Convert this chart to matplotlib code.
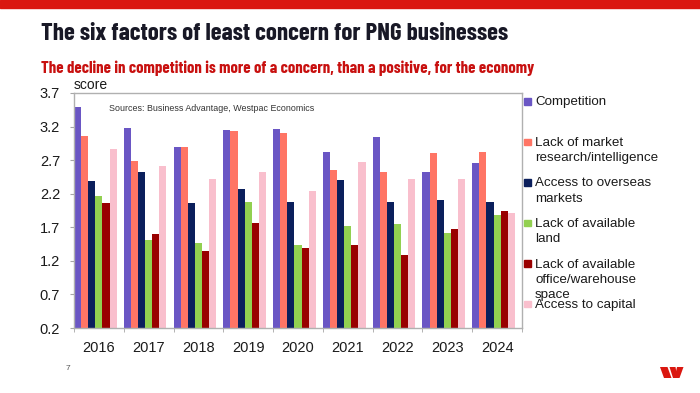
import matplotlib
matplotlib.use("Agg")
import matplotlib.pyplot as plt
from matplotlib.patches import Rectangle, Polygon
import numpy as np

years = ["2016", "2017", "2018", "2019", "2020", "2021", "2022", "2023", "2024"]
competition = [3.49, 3.18, 2.90, 3.15, 3.16, 2.82, 3.04, 2.52, 2.66]
market_research = [3.06, 2.69, 2.90, 3.13, 3.11, 2.55, 2.53, 2.81, 2.82]
overseas = [2.39, 2.52, 2.06, 2.27, 2.07, 2.41, 2.08, 2.11, 2.08]
land = [2.16, 1.51, 1.47, 2.07, 1.44, 1.72, 1.75, 1.61, 1.88]
office = [2.06, 1.60, 1.35, 1.76, 1.39, 1.44, 1.28, 1.68, 1.94]
capital = [2.87, 2.62, 2.42, 2.53, 2.24, 2.67, 2.42, 2.42, 1.91]

series = [competition, market_research, overseas, land, office, capital]
labels = ["Competition", "Lack of market\nresearch/intelligence", "Access to overseas\nmarkets",
          "Lack of available\nland", "Lack of available\noffice/warehouse\nspace", "Access to capital"]
colors = ["#6a56c4", "#ff7565", "#0b1f5c", "#92d050", "#990000", "#f9bfcd"]
yticks = [0.2, 0.7, 1.2, 1.7, 2.2, 2.7, 3.2, 3.7]

W, H = 700, 393
fig = plt.figure(figsize=(7, 3.93), dpi=100)
plt.rcParams['font.family'] = ['Liberation Sans', 'DejaVu Sans']
head_font = ['Barlow Condensed', 'Roboto Condensed', 'Liberation Sans']

# red band at top
fig.patches.append(Rectangle((0, 1 - 7.5 / H), 1, 7.5 / H, transform=fig.transFigure,
                             color="#da1710", zorder=0))

title = fig.text(41 / W, 1 - 39.5 / H, "The six factors of least concern for PNG businesses",
                 fontsize=17.5, fontweight='bold', color="#181826", va='baseline', family=head_font)
sub = fig.text(41 / W, 1 - 72.5 / H, "The decline in competition is more of a concern, than a positive, for the economy",
               fontsize=12, fontweight='bold', color="#c8100f", va='baseline', family=head_font)

# squeeze the headings to their widths in the slide
fig.canvas.draw()
r = fig.canvas.get_renderer()
for t, target in ((title, 466), (sub, 494)):
    w = t.get_window_extent(r).width
    t.set_fontsize(t.get_fontsize() * target / w)

ax = fig.add_axes([74 / W, 1 - 328 / H, (522 - 74) / W, (328 - 93) / H])
slot = 1 / 7
x = np.arange(len(years))
for i, (vals, c) in enumerate(zip(series, colors)):
    ax.bar(x + (i + 0.5) * slot, vals, width=slot, color=c, linewidth=0, zorder=2)

ax.set_xlim(0, len(years))
ax.set_ylim(0.2, 3.7)
ax.set_yticks(yticks)
ax.set_yticklabels([f"{v:.1f}" for v in yticks])
ax.set_xticks(x + 0.5)
ax.set_xticklabels(years)
ax.set_xticks(np.arange(len(years) + 1), minor=True)
ax.tick_params(axis='x', which='major', length=0, pad=9, labelsize=10.5, labelcolor="#1a1a1a")
ax.tick_params(axis='x', which='minor', length=3, color="#a6a6a6", direction='out')
ax.tick_params(axis='y', length=3, color="#a6a6a6", pad=7, labelsize=10.5, labelcolor="#1a1a1a")
for s in ax.spines.values():
    s.set_color("#b0b0b0")
    s.set_linewidth(1.0)

ax.text(0, 1.005, "score", transform=ax.transAxes, fontsize=10, va='bottom', ha='left', color="#1a1a1a")
ax.text(0.078, 0.935, "Sources: Business Advantage, Westpac Economics", transform=ax.transAxes,
        fontsize=6.4, color="#333333", va='center')

# legend drawn at the right of the plot
leg_y = [101, 141.5, 182, 222.5, 263, 303.5]
for lab, c, yy in zip(labels, colors, leg_y):
    fig.patches.append(Rectangle((524 / W, 1 - (yy + 3.5) / H), 6.5 / W, 6.5 / H,
                                 transform=fig.transFigure, color=c))
    fig.text(535 / W, 1 - (yy - 4.5) / H, lab, fontsize=9.6, va='top', ha='left',
             color="#1a1a1a", linespacing=1.36)

# page number and logo
fig.text(66 / W, 1 - 368 / H, "7", fontsize=6, color="#555555", va='center')
logo = [
    [(660, 367), (667.5, 367), (671.5, 378), (664, 378)],
    [(669.5, 367), (675.5, 367), (677.5, 378), (673, 378)],
    [(677, 367), (683.5, 367), (679.5, 378), (674.5, 378)],
]
for pts in logo:
    fig.patches.append(Polygon([(px / W, 1 - py / H) for px, py in pts], closed=True,
                               transform=fig.transFigure, color="#da1710", lw=0))

fig.savefig("out.png", dpi=100)
